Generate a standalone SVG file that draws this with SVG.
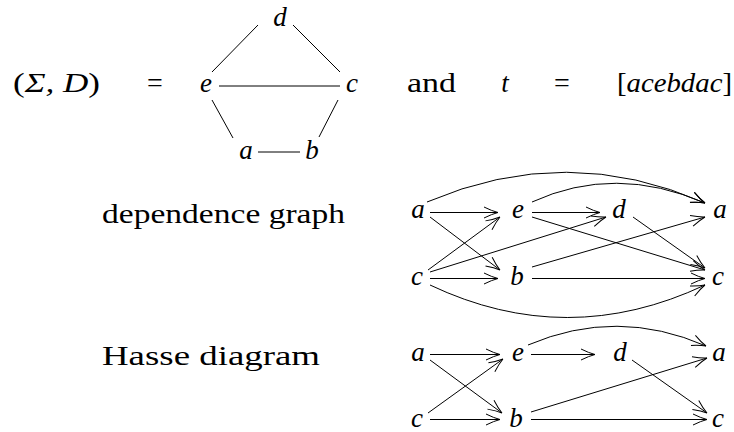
<svg xmlns="http://www.w3.org/2000/svg" width="734" height="432" viewBox="0 0 734 432" font-family="Liberation Serif, DejaVu Serif, serif" font-size="28">
<style>
.m{font-style:italic}
.n{text-anchor:middle;font-style:italic;font-size:27px}
.l{fill:none;stroke:#000;stroke-width:1}
.a{fill:none;stroke:#000;stroke-width:1;marker-end:url(#tip)}
</style>
<defs>
<marker id="tip" markerUnits="userSpaceOnUse" markerWidth="18" markerHeight="14" viewBox="-15 -7 18 14" refX="0" refY="0" orient="auto" overflow="visible">
<path d="M-14,-5.5 Q-6,-1.5 0,0 M-14,5.5 Q-6,1.5 0,0" fill="none" stroke="#000" stroke-width="1"/>
</marker>
</defs>
<rect width="734" height="432" fill="#fff"/>
<g id="header">
<text x="13" y="92" textLength="87" lengthAdjust="spacingAndGlyphs">(<tspan class="m">Σ, D</tspan>)</text>
<text x="155" y="92" text-anchor="middle">=</text>
<text x="407" y="92" textLength="49" lengthAdjust="spacingAndGlyphs">and</text>
<text x="505" y="92" class="n">t</text>
<text x="562" y="92" text-anchor="middle">=</text>
<text x="617" y="92" textLength="115" lengthAdjust="spacingAndGlyphs">[<tspan class="m">acebdac</tspan>]</text>
<text x="102" y="223" textLength="243" lengthAdjust="spacingAndGlyphs">dependence graph</text>
<text x="102" y="365" textLength="218" lengthAdjust="spacingAndGlyphs">Hasse diagram</text>
</g>
<g id="alphabet-edges">
<line class="l" x1="212" y1="72" x2="258" y2="25"/>
<line class="l" x1="293" y1="25" x2="340" y2="72"/>
<line class="l" x1="219" y1="86" x2="340" y2="86"/>
<line class="l" x1="212" y1="100" x2="233" y2="138"/>
<line class="l" x1="338" y1="100" x2="319" y2="137"/>
<line class="l" x1="258" y1="152" x2="300" y2="152"/>
</g>
<g id="alpha-d"><text class="n" x="280" y="26">d</text></g>
<g id="alpha-e"><text class="n" x="206" y="92">e</text></g>
<g id="alpha-c"><text class="n" x="352" y="92">c</text></g>
<g id="alpha-a"><text class="n" x="246" y="159">a</text></g>
<g id="alpha-b"><text class="n" x="312" y="159">b</text></g>
<g id="dep-connectors">
<path class="a" d="M430,212.5 H498"/>
<path class="a" d="M532,212.5 H600"/>
<path class="a" d="M430,217 L500,270"/>
<path class="a" d="M428,270 L500,217"/>
<path class="a" d="M430,272 L606,217"/>
<path class="a" d="M430,278.5 H498"/>
<path class="a" d="M532,217 L705,270"/>
<path class="a" d="M633,217 L705,268"/>
<path class="a" d="M532,267 L705,217"/>
<path class="a" d="M532,278.5 H705"/>
<path class="a" d="M427,202 Q567,142 705,203"/>
<path class="a" d="M532,202 Q615,164 705,203"/>
<path class="a" d="M430,285 Q567,350 705,285"/>
</g>
<g id="dep-a1"><text class="n" x="418" y="218">a</text></g>
<g id="dep-e"><text class="n" x="518" y="218">e</text></g>
<g id="dep-d"><text class="n" x="619" y="218">d</text></g>
<g id="dep-a2"><text class="n" x="720" y="218">a</text></g>
<g id="dep-c1"><text class="n" x="417" y="285">c</text></g>
<g id="dep-b"><text class="n" x="517" y="285">b</text></g>
<g id="dep-c2"><text class="n" x="718" y="285">c</text></g>
<g id="hasse-connectors">
<path class="a" d="M430,354.5 H500"/>
<path class="a" d="M531,354.5 H595"/>
<path class="a" d="M430,360 L502,413"/>
<path class="a" d="M428,413 L503,359"/>
<path class="a" d="M430,419.5 H500"/>
<path class="a" d="M531,419.5 H707"/>
<path class="a" d="M531,412 L707,358"/>
<path class="a" d="M632,360 L707,413"/>
<path class="a" d="M528,345 Q617,307 706,346"/>
</g>
<g id="hasse-a1"><text class="n" x="418" y="361">a</text></g>
<g id="hasse-e"><text class="n" x="518" y="361">e</text></g>
<g id="hasse-d"><text class="n" x="620" y="361">d</text></g>
<g id="hasse-a2"><text class="n" x="719" y="361">a</text></g>
<g id="hasse-c1"><text class="n" x="417" y="427">c</text></g>
<g id="hasse-b"><text class="n" x="516" y="427">b</text></g>
<g id="hasse-c2"><text class="n" x="718" y="427">c</text></g>
</svg>
